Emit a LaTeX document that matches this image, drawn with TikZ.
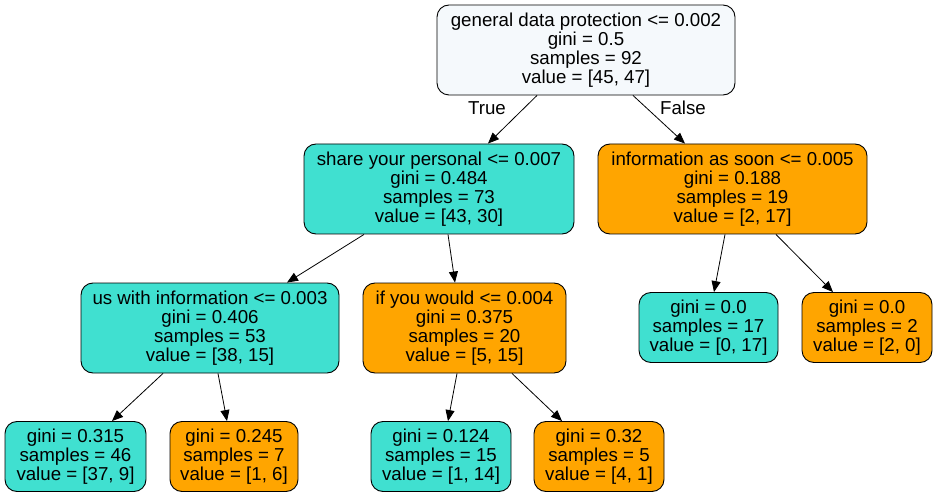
\documentclass[tikz,border=0pt]{standalone}
\usepackage{fontspec}
\setmainfont{Liberation Sans}
\usetikzlibrary{arrows.meta}

\definecolor{rootblue}{RGB}{245,249,252}
\definecolor{leafcyan}{RGB}{64,224,208}
\definecolor{leaforange}{RGB}{255,165,0}

\tikzset{
  treebox/.style={draw=black, line width=0.9pt, rounded corners=12pt, align=center,
    inner sep=0pt, font=\fontsize{18.7}{19}\selectfont, minimum height=90pt},
  leafbox/.style={treebox, minimum height=70pt},
  split/.style={-{Triangle[length=11pt,width=9pt]}, line width=0.8pt},
  branch/.style={font=\fontsize{18.7}{19}\selectfont}
}

\begin{document}
\begin{tikzpicture}[x=1pt,y=-1pt]
\useasboundingbox (0,0) rectangle (937,497);

% decision nodes
\node[treebox, fill=rootblue, minimum width=298pt] (root) at (586,50)
  {general data protection <= 0.002\\gini = 0.5\\samples = 92\\value = [45, 47]};
\node[treebox, fill=leafcyan, minimum width=270pt] (share) at (439,189)
  {share your personal <= 0.007\\gini = 0.484\\samples = 73\\value = [43, 30]};
\node[treebox, fill=leaforange, minimum width=269pt] (soon) at (732.5,189)
  {information as soon <= 0.005\\gini = 0.188\\samples = 19\\value = [2, 17]};
\node[treebox, fill=leafcyan, minimum width=258pt] (uswith) at (210,328)
  {us with information <= 0.003\\gini = 0.406\\samples = 53\\value = [38, 15]};
\node[treebox, fill=leaforange, minimum width=203pt] (ifyou) at (464.5,328)
  {if you would <= 0.004\\gini = 0.375\\samples = 20\\value = [5, 15]};

% leaves
\node[leafbox, fill=leafcyan, minimum width=139pt] (soonA) at (708.5,327.5)
  {gini = 0.0\\samples = 17\\value = [0, 17]};
\node[leafbox, fill=leaforange, minimum width=130pt] (soonB) at (867,327.5)
  {gini = 0.0\\samples = 2\\value = [2, 0]};
\node[leafbox, fill=leafcyan, minimum width=141pt] (uswithA) at (75.5,456.5)
  {gini = 0.315\\samples = 46\\value = [37, 9]};
\node[leafbox, fill=leaforange, minimum width=128pt] (uswithB) at (234,456.5)
  {gini = 0.245\\samples = 7\\value = [1, 6]};
\node[leafbox, fill=leafcyan, minimum width=140pt] (ifyouA) at (441,456.5)
  {gini = 0.124\\samples = 15\\value = [1, 14]};
\node[leafbox, fill=leaforange, minimum width=130pt] (ifyouB) at (599,456.5)
  {gini = 0.32\\samples = 5\\value = [4, 1]};

% edges
\draw[split] ([xshift=-49pt]root.south) -- ([xshift=49pt]share.north);
\draw[split] ([xshift=47pt]root.south) -- ([xshift=-47.5pt]soon.north);
\draw[split] ([xshift=-75pt]share.south) -- ([xshift=77pt]uswith.north);
\draw[split] ([xshift=9pt]share.south) -- ([xshift=-9.5pt]ifyou.north);
\draw[split] ([xshift=-7.5pt]soon.south) -- ([xshift=5.5pt]soonA.north);
\draw[split] ([xshift=43.5pt]soon.south) -- ([xshift=-34pt]soonB.north);
\draw[split] ([xshift=-47pt]uswith.south) -- ([xshift=36.5pt]uswithA.north);
\draw[split] ([xshift=8pt]uswith.south) -- ([xshift=-7pt]uswithB.north);
\draw[split] ([xshift=-7.5pt]ifyou.south) -- ([xshift=7pt]ifyouA.north);
\draw[split] ([xshift=47.5pt]ifyou.south) -- ([xshift=-37pt]ifyouB.north);

\node[branch] (truelbl) at (487,108) {True};
\node[branch] (falselbl) at (683,108) {False};
\end{tikzpicture}
\end{document}
